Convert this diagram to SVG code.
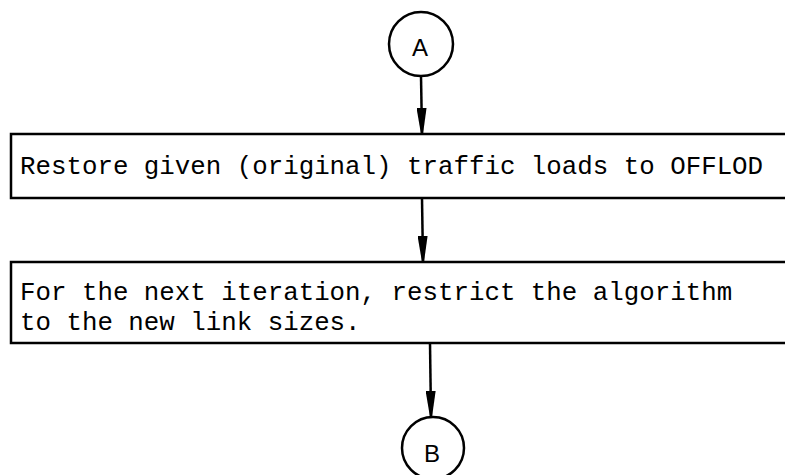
<svg xmlns="http://www.w3.org/2000/svg" width="785" height="475" viewBox="0 0 785 475">
<defs>
<style>
.ln{stroke:#000;stroke-width:2.5;fill:none}
.bx{stroke:#000;stroke-width:2.5;fill:#fff}
.t{font-family:"Liberation Mono","DejaVu Sans Mono",monospace;font-size:25.8px;fill:#000}
.c{font-family:"Liberation Sans","DejaVu Sans",sans-serif;font-size:24px;fill:#000;text-anchor:middle}
</style>
<marker id="ah" viewBox="0 0 26 10" refX="26" refY="5" markerWidth="26" markerHeight="10" markerUnits="userSpaceOnUse" orient="auto">
<path d="M0,0 L0,10 L26,6 L26,4 Z" fill="#000"/>
</marker>
</defs>
<rect width="785" height="475" fill="#fff"/>
<g id="nodeA">
<circle class="ln" cx="421" cy="44" r="32"/>
<text class="c" x="420" y="56">A</text>
</g>
<g id="box1">
<rect class="bx" x="11" y="134" width="790" height="64"/>
<text class="t" x="20" y="174">Restore given (original) traffic loads to OFFLOD</text>
</g>
<g id="box2">
<rect class="bx" x="11" y="262" width="790" height="81"/>
<text class="t" x="20" y="300">For the next iteration, restrict the algorithm</text>
<text class="t" x="20" y="330">to the new link sizes.</text>
</g>
<g id="nodeB">
<circle class="ln" cx="433" cy="448" r="31"/>
<text class="c" x="432" y="462">B</text>
</g>
<g id="connectors">
<path class="ln" d="M421,76 L422,134" marker-end="url(#ah)"/>
<path class="ln" d="M422,198 L423,262" marker-end="url(#ah)"/>
<path class="ln" d="M430,343 L431,417" marker-end="url(#ah)"/>
</g>
</svg>
